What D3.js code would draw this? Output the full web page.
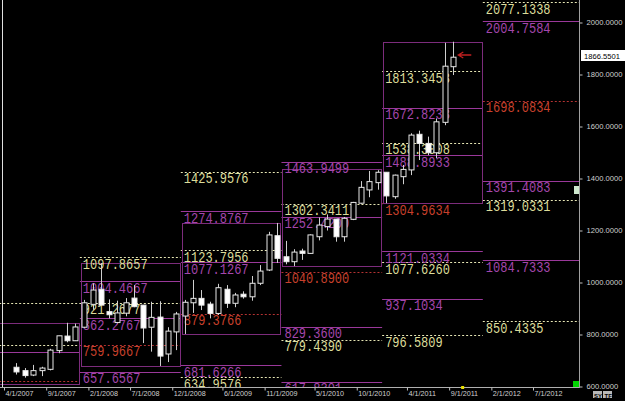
<!DOCTYPE html>
<html>
<head>
<meta charset="utf-8">
<script src="https://cdn.jsdelivr.net/npm/d3@7/dist/d3.min.js"></script>
<style>
  body { margin: 0; background: #000; }
  svg { display: block; }
  .lvl { font-family: "Liberation Mono", monospace; font-size: 12px; }
  .ax text { font-family: "Liberation Sans", Arial, sans-serif; fill: #d0d0d0; }
</style>
</head>
<body>
<svg width="625" height="401"></svg>
<script>
// monthly bars, May 2007 - Sep 2011
var months = ["2007-05","2007-06","2007-07","2007-08","2007-09","2007-10","2007-11","2007-12",
    "2008-01","2008-02","2008-03","2008-04","2008-05","2008-06","2008-07","2008-08","2008-09","2008-10","2008-11","2008-12",
    "2009-01","2009-02","2009-03","2009-04","2009-05","2009-06","2009-07","2009-08","2009-09","2009-10","2009-11","2009-12",
    "2010-01","2010-02","2010-03","2010-04","2010-05","2010-06","2010-07","2010-08","2010-09","2010-10","2010-11","2010-12",
    "2011-01","2011-02","2011-03","2011-04","2011-05","2011-06","2011-07","2011-08","2011-09"];
var opens  = [674,661,644,661,666,738,794,776, 828,916,974,888,846,882,940,913,828,867,725,810,
    871,922,939,917,881,974,920,955,945,997,1048,1180, 1099,1080,1121,1112,1176,1215,1244,1176,1243,1305,1356,1384,
    1424,1330,1407,1433,1570,1535,1499,1616,1830];
var highs  = [690,671,683,676,745,795,845,842, 933,997,1075,935,930,940,990,913,926,928,828,887,
    933,1010,971,926,995,990,960,966,1025,1067,1195,1229, 1160,1128,1130,1185,1250,1262,1244,1252,1310,1390,1429,1432,
    1424,1415,1452,1574,1584,1561,1631,1922,1926];
var lows   = [646,634,640,640,662,728,770,775, 826,895,913,862,843,870,905,767,734,679,694,740,
    802,883,894,862,875,902,905,938,930,990,1044,1075, 1070,1063,1087,1110,1162,1200,1157,1157,1240,1303,1328,1357,
    1305,1322,1378,1413,1471,1490,1478,1605,1798];
var closes = [656,642,661,671,740,795,776,829, 922,971,913,876,883,922,907,825,866,717,813,879,
    924,939,913,881,980,920,952,945,997,1044,1183,1093, 1080,1117,1112,1183,1221,1244,1176,1247,1308,1366,1388,1424,
    1333,1413,1435,1567,1535,1499,1618,1832,1866.55];
var lastPrice = 1866.5501;
var arrowPrice = 1875;

// yearly range boxes
var rangeYears = [2007, 2008, 2009, 2010, 2011];
var rangeHigh  = [845, 1075, 1229, 1437, 1926];
var rangeLow   = [608, 679, 802, 1063, 1305];

// yearly pivot levels: P = pivot (red), M = mid (purple), Y = outer (yellow)
var levelYear  = [2007,2007,2007,2007,
    2008,2008,2008,2008,2008,2008,2008,
    2009,2009,2009,2009,2009,2009,2009,
    2010,2010,2010,2010,2010,2010,2010,
    2011,2011,2011,2011,2011,2011,2011,2011,2011,
    2012,2012,2012,2012,2012,2012,2012];
var levelValue = [921, 760, 733, 621,
    1097.8657, 1004.4667, 921.2677, 862.2767, 759.9667, 657.6567, 598.6657,
    1425.9576, 1274.8767, 1123.7956, 1077.1267, 879.3766, 681.6266, 634.9576,
    1463.9499, 1302.3411, 1252.4200, 1040.8900, 829.3600, 779.4390, 617.8301,
    1813.3453, 1672.8233, 1538.3008, 1488.8933, 1304.9634, 1121.0334, 1077.6260, 937.1034, 796.5809,
    2077.1338, 2004.7584, 1698.0834, 1391.4083, 1319.0331, 1084.7333, 850.4335];
var levelKind  = ["Y","Y","M","P",
    "Y","M","Y","M","P","M","Y",
    "Y","M","Y","M","P","M","Y",
    "M","Y","M","P","M","Y","M",
    "Y","M","Y","M","P","M","Y","M","Y",
    "Y","M","P","M","Y","M","Y"];
var labelledYears = [2008, 2009, 2010, 2011, 2012];

var priceTicks = [600, 800, 1000, 1200, 1400, 1600, 1800, 2000];
var dateTicks = ["2007-04-01","2007-09-01","2008-02-01","2008-07-01","2008-12-01","2009-06-01",
    "2009-11-01","2010-05-01","2010-10-01","2011-04-01","2011-09-01","2012-02-01","2012-07-01"];

var svg = d3.select("svg");
var W = 625, H = 401, plotR = 579, plotB = 388;
var parse = d3.timeParse("%Y-%m-%d");
var parseM = d3.timeParse("%Y-%m");

svg.append("rect").attr("width", W).attr("height", H).attr("fill", "#000");

var x = d3.scaleTime()
    .domain([new Date(2007, 3, 1), new Date(2012, 6, 1)])
    .range([4, 533]);
var y = d3.scaleLinear()
    .domain([600, 2000])
    .range([386.5, 22.5]);

var kindStroke = { P: "#b43232", M: "#9a389a", Y: "#e6e6b4" };
var kindText = { P: "#c8402c", M: "#a446ac", Y: "#dcdc9a" };

svg.append("clipPath").attr("id", "plot")
    .append("rect").attr("x", 0).attr("y", 0).attr("width", plotR).attr("height", plotB);

var g = svg.append("g").attr("clip-path", "url(#plot)");

// level lines
var levels = levelValue.map(function(v, i) {
    return { year: levelYear[i], value: v, kind: levelKind[i] };
});

g.selectAll("line.lvl")
    .data(levels)
    .enter()
    .append("line")
    .attr("x1", d => x(new Date(d.year, 0, 1)))
    .attr("x2", d => x(new Date(d.year + 1, 0, 1)))
    .attr("y1", d => Math.round(y(d.value)) + 0.5)
    .attr("y2", d => Math.round(y(d.value)) + 0.5)
    .attr("stroke", d => kindStroke[d.kind])
    .attr("stroke-width", 1)
    .attr("stroke-dasharray", d => d.kind == "M" ? null : "2,2");

// year range boxes
g.selectAll("rect.range")
    .data(rangeYears)
    .enter()
    .append("rect")
    .attr("x", d => Math.round(x(new Date(d, 0, 1))) + 1.5)
    .attr("y", (d, i) => Math.round(y(rangeHigh[i])) + 0.5)
    .attr("width", d => Math.round(x(new Date(d + 1, 0, 1))) - Math.round(x(new Date(d, 0, 1))) - 2)
    .attr("height", (d, i) => Math.round(y(rangeLow[i])) - Math.round(y(rangeHigh[i])))
    .attr("fill", "none")
    .attr("stroke", "#7c2c7c")
    .attr("stroke-width", 1);

// level labels (a bit taller than the font, like the terminal's digits)
g.selectAll("text.lvl")
    .data(levels.filter(d => labelledYears.indexOf(d.year) >= 0))
    .enter()
    .append("text")
    .attr("class", "lvl")
    .attr("transform", d => "translate(" + (x(new Date(d.year, 0, 1)) + 3) + "," + (y(d.value) + 11.5) + ") scale(1,1.15)")
    .attr("fill", d => kindText[d.kind])
    .text(d => d3.format(".4f")(d.value));

// candles
var bars = months.map(function(m, i) {
    var dt = parseM(m);
    return { date: new Date(dt.getFullYear(), dt.getMonth(), 16), o: opens[i], h: highs[i], l: lows[i], c: closes[i] };
});

var candle = g.selectAll("g.bar")
    .data(bars)
    .enter()
    .append("g");

candle.append("line")
    .attr("x1", d => Math.round(x(d.date)) + 0.5)
    .attr("x2", d => Math.round(x(d.date)) + 0.5)
    .attr("y1", d => y(d.h))
    .attr("y2", d => y(d.l))
    .attr("stroke", "#cfcfcf");

candle.append("rect")
    .attr("x", d => Math.round(x(d.date)) - 2)
    .attr("y", d => y(Math.max(d.o, d.c)))
    .attr("width", 5)
    .attr("height", d => Math.max(1, Math.abs(y(d.o) - y(d.c))))
    .attr("fill", d => d.c < d.o ? "#ffffff" : "#000000")
    .attr("stroke", "#e8e8e8")
    .attr("stroke-width", 1);

// frame lines
svg.append("line").attr("x1", 2.5).attr("x2", 2.5).attr("y1", 0).attr("y2", plotB)
    .attr("stroke", "#e0e0e0");

// right price axis
var yAx = svg.append("g")
    .attr("class", "ax")
    .attr("transform", "translate(" + (plotR + 0.5) + ",0)")
    .call(d3.axisRight(y).tickValues(priceTicks).tickSize(3).tickPadding(4).tickFormat(d3.format(".4f")));
yAx.select(".domain").remove();
yAx.selectAll("line").attr("stroke", "#c0c0c0");
yAx.selectAll("text").style("font-size", "7.6px");
svg.append("line").attr("x1", plotR + 0.5).attr("x2", plotR + 0.5).attr("y1", 0).attr("y2", plotB)
    .attr("stroke", "#a0a0a0");

// bottom date axis
var xAx = svg.append("g")
    .attr("class", "ax")
    .attr("transform", "translate(0," + (plotB - 0.5) + ")")
    .call(d3.axisBottom(x).tickValues(dateTicks.map(parse)).tickSize(3).tickFormat(d3.timeFormat("%-m/%-d/%Y")));
xAx.select(".domain").attr("stroke", "#b0b0b0").attr("d", "M0,0H" + plotR);
xAx.selectAll("line").attr("stroke", "#c0c0c0");
xAx.selectAll("text")
    .attr("text-anchor", "start")
    .attr("x", 1)
    .attr("y", 3)
    .style("font-size", "7.2px");

// last price tag
svg.append("rect").attr("x", 581).attr("y", 50).attr("width", 44).attr("height", 11).attr("fill", "#fff");
svg.append("text").attr("x", 584).attr("y", 58.5).attr("fill", "#000")
    .style("font-family", "Liberation Sans, Arial, sans-serif").style("font-size", "7.6px")
    .text(d3.format(".4f")(lastPrice));

// marker arrow at the last bar
var lastX = x(bars[bars.length - 1].date);
var ay = y(arrowPrice);
svg.append("path")
    .attr("d", "M" + (lastX + 18) + "," + ay + "H" + (lastX + 5) + "M" + (lastX + 10) + "," + (ay - 3) +
        "L" + (lastX + 5) + "," + ay + "L" + (lastX + 10) + "," + (ay + 3))
    .attr("fill", "none").attr("stroke", "#c02020").attr("stroke-width", 1.3);

// small widgets
svg.append("rect").attr("x", 573).attr("y", 381).attr("width", 6).attr("height", 6).attr("fill", "#00d400");
svg.append("rect").attr("x", x(new Date(2011, 8, 1)) + 12).attr("y", 386).attr("width", 3).attr("height", 3).attr("fill", "#e8e000");
svg.append("rect").attr("x", 574).attr("y", 186).attr("width", 5).attr("height", 8).attr("fill", "#cfe8cf");
svg.append("rect").attr("x", 593).attr("y", 391).attr("width", 9).attr("height", 7).attr("fill", "#b8b8b8");
svg.append("rect").attr("x", 603).attr("y", 391).attr("width", 9).attr("height", 7).attr("fill", "#b8b8b8");
svg.append("text").attr("x", 594).attr("y", 397.5).attr("fill", "#000").style("font-size", "6px")
    .style("font-family", "Liberation Sans, Arial, sans-serif").style("font-weight", "bold").text("SY");
svg.append("text").attr("x", 604.5).attr("y", 397.5).attr("fill", "#000").style("font-size", "6px")
    .style("font-family", "Liberation Sans, Arial, sans-serif").style("font-weight", "bold").text("TF");
</script>
</body>
</html>
